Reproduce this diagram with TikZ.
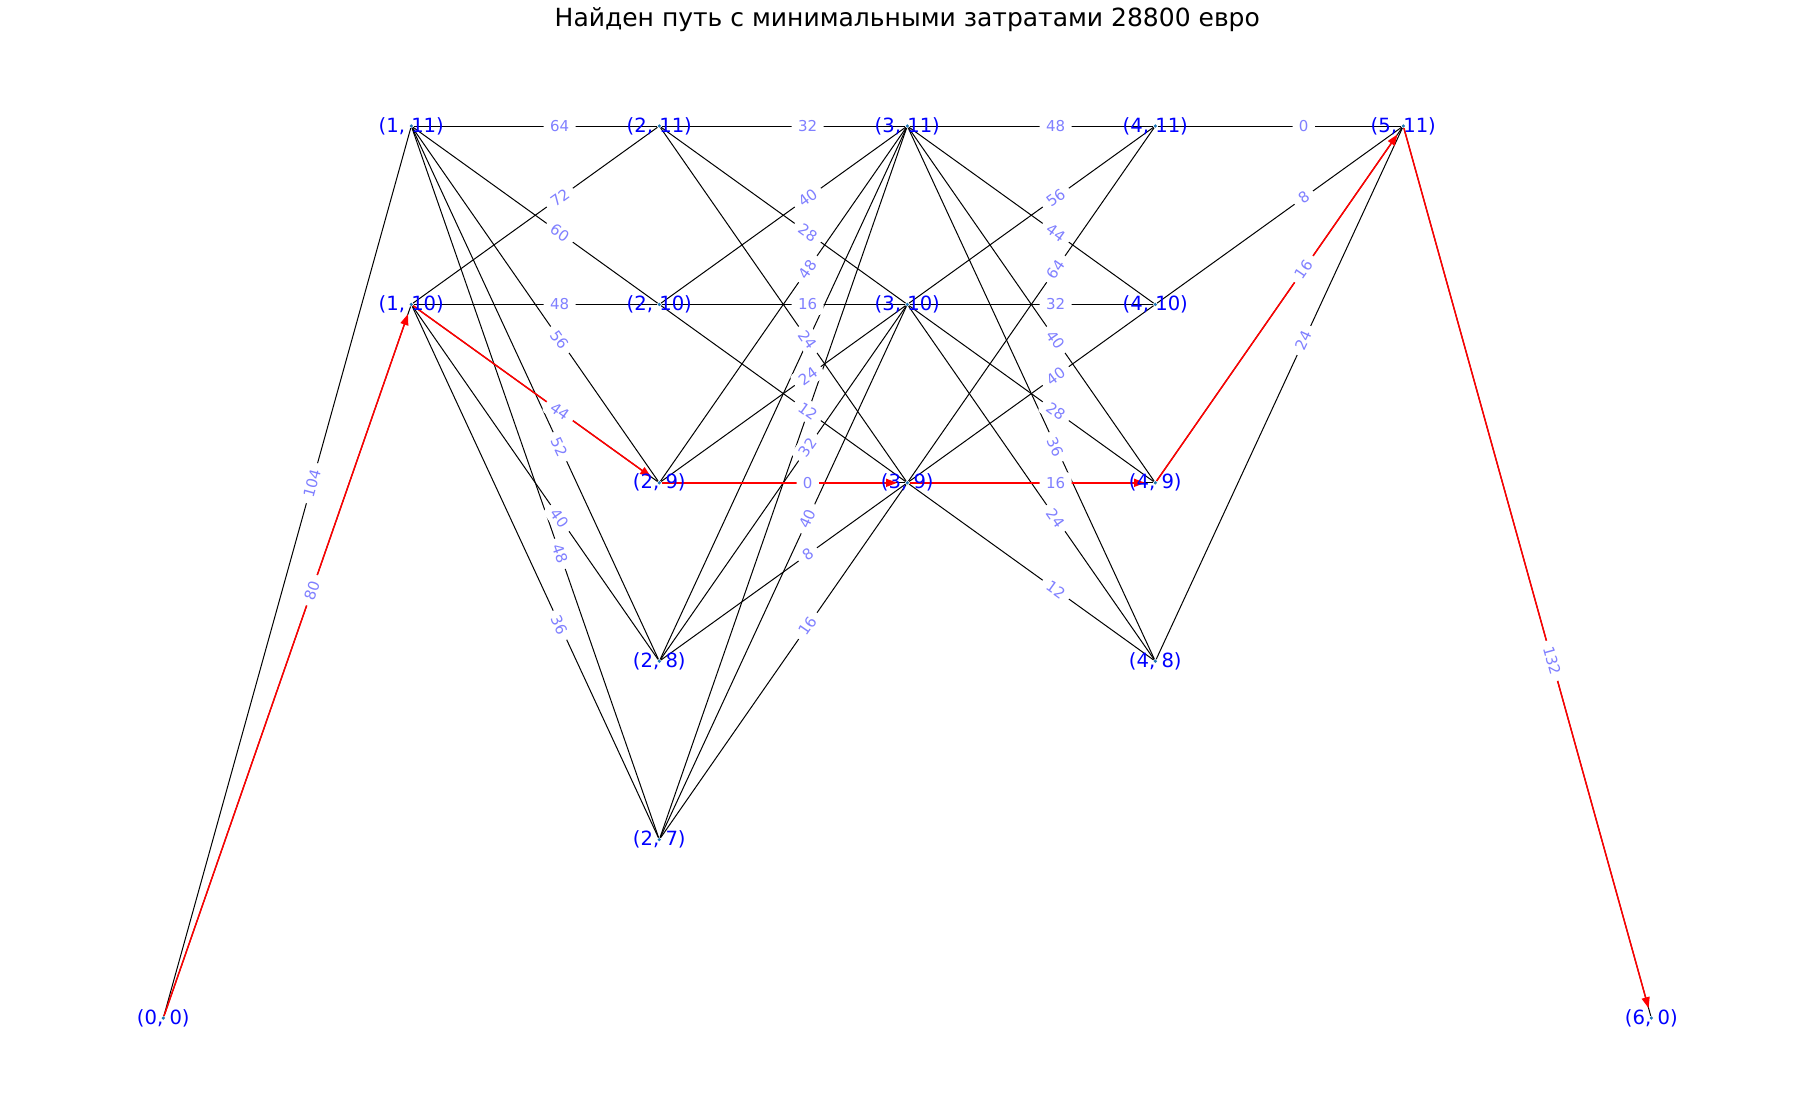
\documentclass[tikz,border=0pt]{standalone}
\usepackage{fontspec}
\setmainfont{DejaVu Sans}
\usetikzlibrary{
  arrows.meta,
  backgrounds
}
\definecolor{nxblue}{HTML}{0000FF}
\definecolor{nxdot}{HTML}{1F77B4}
\definecolor{nxweight}{HTML}{8080FF}
\definecolor{nxred}{HTML}{FF0000}

\begin{document}
\begin{tikzpicture}[
      x=124pt, y=-89.2pt,
      vertex/.style={
        circle, fill=nxdot, inner sep=0pt, minimum size=1.8pt,
        label={[font=\fontsize{9.8}{11}\selectfont, text=nxblue, inner sep=0pt]center:#1}
      },
      link/.style={line width=0.5pt, black},
      best/.style={-{Triangle[length=5.5pt, width=4pt]}, line width=0.75pt, nxred, shorten >=4pt},
      wt/.style={
        pos=0.6, sloped, fill=white, rounded corners=2pt,
        inner xsep=3.2pt, inner ysep=2.4pt,
        font=\fontsize{7.5}{8}\selectfont, text=nxweight
      },
      title/.style={font=\fontsize{12.5}{14}\selectfont, anchor=base}
    ]
      \useasboundingbox (-0.6585,-0.7063) rectangle (6.6560,5.5661);

      % Title
      \node[title] (head) at (3,-0.5605) {Найден путь с минимальными затратами 28800 евро};

      % Vertices
      \node[vertex={(0, 0)}] (v0-0) at (0,5) {};
      \node[vertex={(1, 11)}] (v1-11) at (1,0) {};
      \node[vertex={(1, 10)}] (v1-10) at (1,1) {};
      \node[vertex={(2, 11)}] (v2-11) at (2,0) {};
      \node[vertex={(2, 10)}] (v2-10) at (2,1) {};
      \node[vertex={(2, 9)}] (v2-9) at (2,2) {};
      \node[vertex={(2, 8)}] (v2-8) at (2,3) {};
      \node[vertex={(2, 7)}] (v2-7) at (2,4) {};
      \node[vertex={(3, 11)}] (v3-11) at (3,0) {};
      \node[vertex={(3, 10)}] (v3-10) at (3,1) {};
      \node[vertex={(3, 9)}] (v3-9) at (3,2) {};
      \node[vertex={(4, 11)}] (v4-11) at (4,0) {};
      \node[vertex={(4, 10)}] (v4-10) at (4,1) {};
      \node[vertex={(4, 9)}] (v4-9) at (4,2) {};
      \node[vertex={(4, 8)}] (v4-8) at (4,3) {};
      \node[vertex={(5, 11)}] (v5-11) at (5,0) {};
      \node[vertex={(6, 0)}] (v6-0) at (6,5) {};

      \begin{scope}[on background layer]
        % Edges
        \draw[link] (v0-0) -- (v1-11);
        \draw[link] (v0-0) -- (v1-10);
        \draw[link] (v1-11) -- (v2-11);
        \draw[link] (v1-11) -- (v2-10);
        \draw[link] (v1-11) -- (v2-9);
        \draw[link] (v1-11) -- (v2-8);
        \draw[link] (v1-11) -- (v2-7);
        \draw[link] (v1-10) -- (v2-11);
        \draw[link] (v1-10) -- (v2-10);
        \draw[link] (v1-10) -- (v2-9);
        \draw[link] (v1-10) -- (v2-8);
        \draw[link] (v1-10) -- (v2-7);
        \draw[link] (v2-11) -- (v3-11);
        \draw[link] (v2-11) -- (v3-10);
        \draw[link] (v2-11) -- (v3-9);
        \draw[link] (v2-10) -- (v3-11);
        \draw[link] (v2-10) -- (v3-10);
        \draw[link] (v2-10) -- (v3-9);
        \draw[link] (v2-9) -- (v3-11);
        \draw[link] (v2-9) -- (v3-10);
        \draw[link] (v2-9) -- (v3-9);
        \draw[link] (v2-8) -- (v3-11);
        \draw[link] (v2-8) -- (v3-10);
        \draw[link] (v2-8) -- (v3-9);
        \draw[link] (v2-7) -- (v3-11);
        \draw[link] (v2-7) -- (v3-10);
        \draw[link] (v2-7) -- (v3-9);
        \draw[link] (v3-11) -- (v4-11);
        \draw[link] (v3-11) -- (v4-10);
        \draw[link] (v3-11) -- (v4-9);
        \draw[link] (v3-11) -- (v4-8);
        \draw[link] (v3-10) -- (v4-11);
        \draw[link] (v3-10) -- (v4-10);
        \draw[link] (v3-10) -- (v4-9);
        \draw[link] (v3-10) -- (v4-8);
        \draw[link] (v3-9) -- (v4-11);
        \draw[link] (v3-9) -- (v4-10);
        \draw[link] (v3-9) -- (v4-9);
        \draw[link] (v3-9) -- (v4-8);
        \draw[link] (v4-11) -- (v5-11);
        \draw[link] (v4-10) -- (v5-11);
        \draw[link] (v4-9) -- (v5-11);
        \draw[link] (v4-8) -- (v5-11);
        \draw[link] (v5-11) -- (v6-0);

        % Cheapest path
        \draw[best] (v0-0) -- (v1-10);
        \draw[best] (v1-10) -- (v2-9);
        \draw[best] (v2-9) -- (v3-9);
        \draw[best] (v3-9) -- (v4-9);
        \draw[best] (v4-9) -- (v5-11);
        \draw[best] (v5-11) -- (v6-0);
      \end{scope}

      % Costs
      \path (v0-0) -- node[wt] {104} (v1-11);
      \path (v0-0) -- node[wt] {80} (v1-10);
      \path (v1-11) -- node[wt] {64} (v2-11);
      \path (v1-11) -- node[wt] {60} (v2-10);
      \path (v1-11) -- node[wt] {56} (v2-9);
      \path (v1-11) -- node[wt] {52} (v2-8);
      \path (v1-11) -- node[wt] {48} (v2-7);
      \path (v1-10) -- node[wt] {72} (v2-11);
      \path (v1-10) -- node[wt] {48} (v2-10);
      \path (v1-10) -- node[wt] {44} (v2-9);
      \path (v1-10) -- node[wt] {40} (v2-8);
      \path (v1-10) -- node[wt] {36} (v2-7);
      \path (v2-11) -- node[wt] {32} (v3-11);
      \path (v2-11) -- node[wt] {28} (v3-10);
      \path (v2-11) -- node[wt] {24} (v3-9);
      \path (v2-10) -- node[wt] {40} (v3-11);
      \path (v2-10) -- node[wt] {16} (v3-10);
      \path (v2-10) -- node[wt] {12} (v3-9);
      \path (v2-9) -- node[wt] {48} (v3-11);
      \path (v2-9) -- node[wt] {24} (v3-10);
      \path (v2-9) -- node[wt] {0} (v3-9);
      \path (v2-8) -- node[wt] {32} (v3-10);
      \path (v2-8) -- node[wt] {8} (v3-9);
      \path (v2-7) -- node[wt] {40} (v3-10);
      \path (v2-7) -- node[wt] {16} (v3-9);
      \path (v3-11) -- node[wt] {48} (v4-11);
      \path (v3-11) -- node[wt] {44} (v4-10);
      \path (v3-11) -- node[wt] {40} (v4-9);
      \path (v3-11) -- node[wt] {36} (v4-8);
      \path (v3-10) -- node[wt] {56} (v4-11);
      \path (v3-10) -- node[wt] {32} (v4-10);
      \path (v3-10) -- node[wt] {28} (v4-9);
      \path (v3-10) -- node[wt] {24} (v4-8);
      \path (v3-9) -- node[wt] {64} (v4-11);
      \path (v3-9) -- node[wt] {40} (v4-10);
      \path (v3-9) -- node[wt] {16} (v4-9);
      \path (v3-9) -- node[wt] {12} (v4-8);
      \path (v4-11) -- node[wt] {0} (v5-11);
      \path (v4-10) -- node[wt] {8} (v5-11);
      \path (v4-9) -- node[wt] {16} (v5-11);
      \path (v4-8) -- node[wt] {24} (v5-11);
      \path (v5-11) -- node[wt] {132} (v6-0);
    \end{tikzpicture}
\end{document}
